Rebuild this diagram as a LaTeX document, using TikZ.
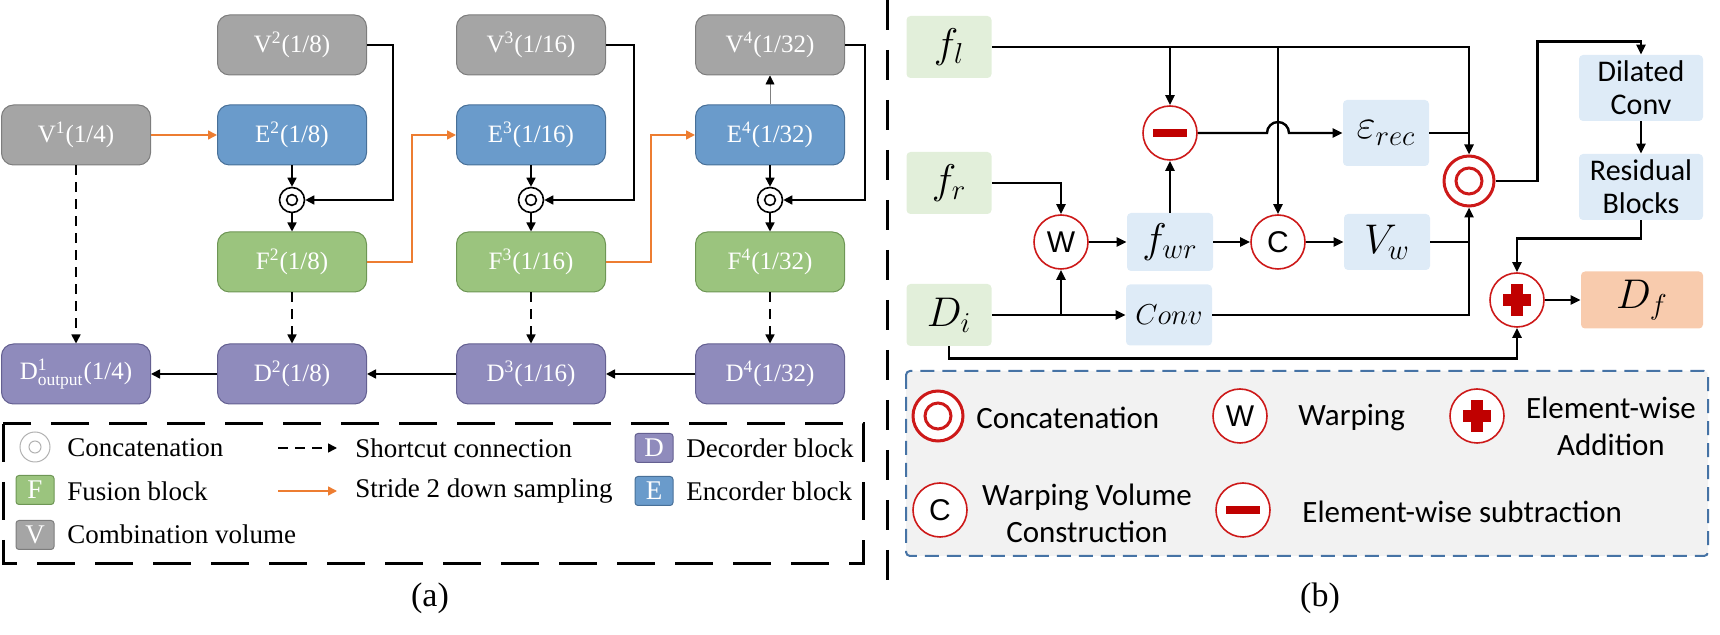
\documentclass[tikz,border=0pt]{standalone}
\usepackage{amsmath}
\usepackage{fontspec}
\setmainfont{Liberation Serif}
\newfontfamily\calibfont{Carlito}
\newfontfamily\arialfont{Liberation Sans}
\usepackage{tikz}
\usetikzlibrary{arrows.meta, calc}
\definecolor{vgray}{RGB}{165,165,165}
\definecolor{vline}{RGB}{125,125,125}
\definecolor{eblue}{RGB}{106,155,203}
\definecolor{eline}{RGB}{72,112,152}
\definecolor{fgreen}{RGB}{155,196,126}
\definecolor{fline}{RGB}{110,150,85}
\definecolor{dpurple}{RGB}{143,139,188}
\definecolor{dline}{RGB}{100,96,145}
\definecolor{myorange}{RGB}{237,125,49}
\definecolor{lgreen}{RGB}{226,239,218}
\definecolor{lblue}{RGB}{222,235,247}
\definecolor{lpeach}{RGB}{248,203,173}
\definecolor{opred}{RGB}{192,0,0}
\definecolor{ringred}{RGB}{205,25,25}
\definecolor{legfill}{RGB}{242,242,242}
\definecolor{legblue}{RGB}{70,115,165}
\tikzset{
  lblock/.style={rectangle, rounded corners=6pt, minimum width=74.5pt,
    minimum height=30pt, inner sep=0pt, text=white, line width=0.5pt,
    font=\fontsize{12.5}{14}\selectfont},
  vblock/.style={lblock, draw=vline, fill=vgray},
  eblock/.style={lblock, draw=eline, fill=eblue},
  fblock/.style={lblock, draw=fline, fill=fgreen},
  dblock/.style={lblock, draw=dline, fill=dpurple},
  keybox/.style={rectangle, rounded corners=1.5pt, minimum width=19pt,
    minimum height=14.5pt, inner sep=0pt, text=white, line width=0.5pt,
    font=\fontsize{13.5}{15}\selectfont},
  catjunc/.style={circle, draw, line width=0.8pt, minimum size=12.5pt, inner sep=0pt,
    path picture={\draw[line width=0.8pt] (path picture bounding box.center) circle (2.7pt);}},
  keycat/.style={circle, draw=gray!60, line width=0.5pt, minimum size=15pt, inner sep=0pt,
    path picture={\draw[gray!60, line width=0.5pt] (path picture bounding box.center) circle (3pt);}},
  arrow/.style={-{Triangle[length=4.5pt,width=4.5pt]}, line width=0.8pt},
  orarrow/.style={arrow, color=myorange},
  dasharrow/.style={arrow, dash pattern=on 5pt off 3.5pt},
  keytext/.style={anchor=west, inner sep=0pt, font=\fontsize{13.5}{15}\selectfont},
  rblock/.style={rectangle, rounded corners=2pt, inner sep=0pt,
    font=\fontsize{20}{24}\selectfont},
  inblock/.style={rblock, fill=lgreen, minimum width=42.5pt, minimum height=31pt},
  opblock/.style={rblock, fill=lblue, minimum width=43pt, minimum height=29pt},
  wideblock/.style={rblock, fill=lblue, minimum width=62pt, minimum height=33pt,
    align=center, font=\calibfont\fontsize{15}{16.5}\selectfont},
  outblock/.style={rblock, fill=lpeach, minimum width=61pt, minimum height=28.5pt},
  redop/.style={circle, draw=ringred, line width=0.8pt, fill=white, minimum size=27pt,
    inner sep=0pt, font=\arialfont\fontsize{15}{15}\selectfont},
  subop/.style={redop, path picture={\fill[opred]
    ([shift={(-8.5pt,-2pt)}]path picture bounding box.center) rectangle
    ([shift={(8.5pt,2pt)}]path picture bounding box.center);}},
  addop/.style={redop, path picture={\fill[opred]
    ([shift={(-7pt,-3pt)}]path picture bounding box.center) rectangle
    ([shift={(7pt,3pt)}]path picture bounding box.center);
    \fill[opred]
    ([shift={(-3pt,-8pt)}]path picture bounding box.center) rectangle
    ([shift={(3pt,8pt)}]path picture bounding box.center);}},
  catop/.style={circle, draw=ringred, line width=1.5pt, fill=white, minimum size=25pt,
    inner sep=0pt, path picture={\draw[ringred, line width=1.5pt]
    (path picture bounding box.center) circle (6.5pt);}},
  flow/.style={-{Triangle[length=5pt,width=4.5pt]}, line width=1.2pt},
  line/.style={line width=1.2pt},
  legtext/.style={inner sep=0pt, font=\calibfont\fontsize{15.5}{18.5}\selectfont},
  caption/.style={font=\fontsize{17}{19}\selectfont}
}

\begin{document}
\begin{tikzpicture}[x=0.5pt, y=-0.5pt]
  \useasboundingbox (0,0) rectangle (1720,635);

  % (a) volumes, encoders, fusion and decoder blocks
  \node[vblock] (V1) at (76,135) {V\textsuperscript{1}(1/4)};
  \node[vblock] (V2) at (292,45) {V\textsuperscript{2}(1/8)};
  \node[vblock] (V3) at (531,45) {V\textsuperscript{3}(1/16)};
  \node[vblock] (V4) at (770,45) {V\textsuperscript{4}(1/32)};
  \node[eblock] (E2) at (292,135) {E\textsuperscript{2}(1/8)};
  \node[eblock] (E3) at (531,135) {E\textsuperscript{3}(1/16)};
  \node[eblock] (E4) at (770,135) {E\textsuperscript{4}(1/32)};
  \node[catjunc] (c2) at (292,200) {};
  \node[catjunc] (c3) at (531,200) {};
  \node[catjunc] (c4) at (770,200) {};
  \node[fblock] (F2) at (292,262) {F\textsuperscript{2}(1/8)};
  \node[fblock] (F3) at (531,262) {F\textsuperscript{3}(1/16)};
  \node[fblock] (F4) at (770,262) {F\textsuperscript{4}(1/32)};
  \node[dblock] (D1) at (76,374) {D$^{\text{1}}_{\text{output}}$(1/4)};
  \node[dblock] (D2) at (292,374) {D\textsuperscript{2}(1/8)};
  \node[dblock] (D3) at (531,374) {D\textsuperscript{3}(1/16)};
  \node[dblock] (D4) at (770,374) {D\textsuperscript{4}(1/32)};

  % stride 2 down sampling
  \draw[orarrow] (V1.east) -- (E2.west);
  \draw[orarrow] (F2.east) -- ++(45,0) |- (E3.west);
  \draw[orarrow] (F3.east) -- ++(45,0) |- (E4.west);

  % concatenation
  \foreach \i in {2,3,4} {
    \draw[arrow] (E\i.south) -- (c\i.north);
    \draw[arrow] (c\i.south) -- (F\i.north);
  }
  \draw[arrow] (V2.east) -- ++(26,0) |- (c2.east);
  \draw[arrow] (V3.east) -- ++(28,0) |- (c3.east);
  \draw[arrow] (V4.east) -- ++(20,0) |- (c4.east);
  \draw[line width=0.4pt, draw=gray, -{Triangle[length=4.5pt,width=4.5pt,color=black]}] (E4.north) -- (V4.south);

  % shortcuts and decoder path
  \draw[dasharrow] (V1.south) -- (D1.north);
  \draw[dasharrow] (F2.south) -- (D2.north);
  \draw[dasharrow] (F3.south) -- (D3.north);
  \draw[dasharrow] (F4.south) -- (D4.north);
  \draw[arrow] (D4.west) -- (D3.east);
  \draw[arrow] (D3.west) -- (D2.east);
  \draw[arrow] (D2.west) -- (D1.east);

  % legend (a)
  \draw[line width=1.5pt, dash pattern=on 19pt off 10pt] (3,424) rectangle (863,564);
  \node[keycat] (kcat) at (35,447) {};
  \node[keybox, draw=fline, fill=fgreen] (kF) at (35,490) {F};
  \node[keybox, draw=vline, fill=vgray] (kV) at (35,535) {V};
  \node[keytext] at (67,448) {Concatenation};
  \node[keytext] at (67,491) {Fusion block};
  \node[keytext] at (67,534) {Combination volume};
  \coordinate (ks1) at (278,448);
  \coordinate (ks2) at (337,448);
  \coordinate (ko1) at (278,491);
  \coordinate (ko2) at (337,491);
  \draw[dasharrow] (ks1) -- (ks2);
  \draw[orarrow] (ko1) -- (ko2);
  \node[keytext] at (355,448) {Shortcut connection};
  \node[keytext] at (355,491) {Stride 2 down sampling};
  \node[keybox, draw=dline, fill=dpurple] (kD) at (654,448) {D};
  \node[keybox, draw=eline, fill=eblue] (kE) at (654,491) {E};
  \node[keytext] at (686,448) {Decorder block};
  \node[keytext] at (686,491) {Encorder block};
  \node[caption] at (430,598) {(a)};

  % separator
  \draw[line width=1.5pt, dash pattern=on 15pt off 10pt] (887,0) -- (887,582);

  % (b) inputs and operations
  \node[inblock] (fl) at (949,47) {$f_l$};
  \node[inblock] (fr) at (949,183) {$f_r$};
  \node[inblock] (Di) at (949,315) {$D_i$};
  \node[redop] (wp) at (1061,242) {W};
  \node[opblock] (fwr) at (1170,242) {$f_{wr}$};
  \node[opblock, font=\fontsize{14.5}{16}\selectfont, minimum height=30.5pt] (conv) at (1169,315) {$Conv$};
  \node[subop] (sub) at (1170,133) {};
  \node[redop] (vc) at (1278,242) {C};
  \node[opblock, minimum height=33pt] (erec) at (1386,133) {$\varepsilon_{rec}$};
  \node[opblock, minimum height=28pt] (Vw) at (1387,242) {$V_w$};
  \node[catop] (cat) at (1469,181) {};
  \node[wideblock] (dil) at (1641,88) {Dilated\\Conv};
  \node[wideblock] (res) at (1641,187) {Residual\\Blocks};
  \node[addop] (add) at (1517,300) {};
  \node[outblock] (Df) at (1642,300) {$D_f$};

  \draw[flow] (fl.east) -| (cat.north);
  \draw[flow] (fl.east -| sub.north) -- (sub.north);
  \draw[flow] (fl.east -| vc.north) -- (vc.north);
  \draw[flow] (fr.east) -| (wp.north);
  \draw[flow] (Di.east) -- (conv.west);
  \draw[flow] (Di.east -| wp.south) -- (wp.south);
  \draw[flow] (wp.east) -- (fwr.west);
  \draw[flow] (fwr.north) -- (sub.south);
  \draw[flow] (fwr.east) -- (vc.west);
  \draw[flow] (vc.east) -- (Vw.west);
  \draw[flow] (sub.east) -- ($(vc.north |- sub.east)+(-11,0)$)
    arc[start angle=180, end angle=0, radius=5.5pt] -- (erec.west);
  \draw[line] (erec.east) -- (erec.east -| cat.north);
  \draw[line] (Vw.east) -- (Vw.east -| cat.south);
  \draw[flow] (conv.east) -| (cat.south);
  \draw[flow] (cat.east) -- ++(42,0) |- ($(dil.north)+(0,-13)$) -- (dil.north);
  \draw[flow] (dil.south) -- (res.north);
  \draw[flow] (res.south) -- ++(0,18) -| (add.north);
  \draw[flow] (Di.south) -- ++(0,12) -| (add.south);
  \draw[flow] (add.east) -- (Df.west);

  % legend (b)
  \draw[legblue, fill=legfill, line width=1pt, dash pattern=on 7pt off 4pt, rounded corners=2pt]
    (906,371) rectangle (1708,556);
  \node[catop] (kbcat) at (938,416) {};
  \node[redop] (kbwp) at (1240,416) {W};
  \node[addop] (kbadd) at (1477,416) {};
  \node[redop] (kbvc) at (940,510) {C};
  \node[subop] (kbsub) at (1243,510) {};
  \node[legtext, anchor=west] at (976,418) {Concatenation};
  \node[legtext, anchor=west] at (1298,418) {Warping};
  \node[legtext, align=center] at (1611,426) {Element-wise\\Addition};
  \node[legtext, align=center] at (1087,513) {Warping Volume\\Construction};
  \node[legtext, anchor=west] at (1302,512) {Element-wise subtraction};
  \node[caption] at (1320,598) {(b)};
\end{tikzpicture}
\end{document}
